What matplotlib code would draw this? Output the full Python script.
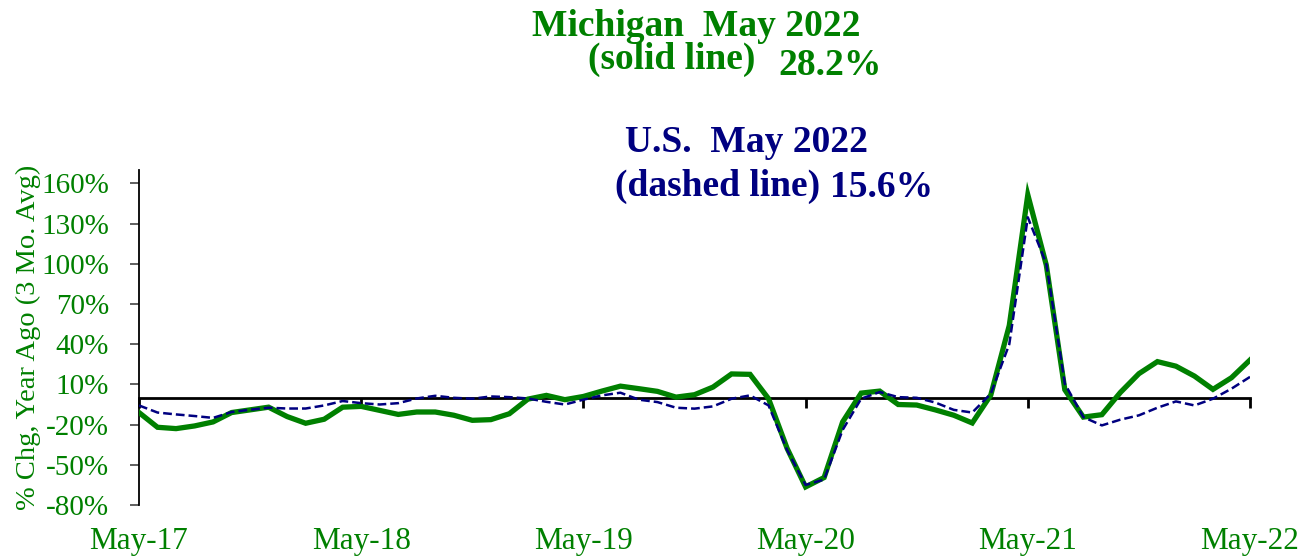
import matplotlib
matplotlib.use("Agg")
import matplotlib.pyplot as plt
from matplotlib.ticker import FixedLocator, FuncFormatter

plt.rcParams['font.family'] = ['Liberation Serif', 'DejaVu Serif']

GREEN = "#008000"
NAVY = "#000080"

# monthly, May-17 .. May-22, % chg year ago (3 mo. avg)
michigan = [-11, -22, -23, -21, -18, -11, -9, -7, -14, -19,
            -16, -7, -6.4, -9.4, -12.4, -10.6, -10.6, -13, -16.8, -16.3,
            -11.9, -1, 1.8, -1.4, 1, 5, 8.7, 6.8, 4.8, 0.5,
            2.3, 8, 17.8, 17.5, -0.7, -37.7, -66.5, -59.5, -18, 3.5,
            5, -5, -5.4, -9, -13, -18.8, 2, 54, 151.5, 99,
            6, -14.4, -12.6, 4, 18, 27, 23.6, 16.2, 6.3, 15,
            28.2]
us = [-5.7, -11, -12.4, -13.6, -15, -10.6, -8.9, -7.4, -8, -8,
      -5.7, -2.4, -4, -5, -4, -0.5, 1.5, 0, -0.7, 1,
      0.5, -0.5, -3, -5, -1.4, 1.8, 3.8, -1.4, -3.2, -7.4,
      -8.1, -6.4, -0.7, 1.8, -5.7, -39, -65, -61, -24, -0.7,
      4.3, 0.5, 0, -3.5, -9, -11, 3, 40, 134.7, 100,
      10.5, -14.4, -20.6, -16.3, -13.1, -7.4, -2.7, -5.7, -0.7, 6.8,
      15.6]
months = list(range(len(michigan)))

xtick_pos = [0, 12, 24, 36, 48, 60]
xtick_labels = ["May-17", "May-18", "May-19", "May-20", "May-21", "May-22"]
ytick_vals = [-80, -50, -20, 10, 40, 70, 100, 130, 160]

fig = plt.figure(figsize=(13.14, 5.6), dpi=100)
ax = fig.add_axes([139 / 1314, 1 - 505 / 560, 1111 / 1314, 335 / 560])

ax.plot(months, michigan, color=GREEN, lw=3.8, zorder=3, solid_joinstyle='miter')
ax.plot(months, us, color=NAVY, lw=1.8, dashes=(3.5, 1.6), zorder=4)

ax.set_xlim(0, 60)
ax.set_ylim(-80, 170)

# zero line acts as x axis with month ticks
ax.spines['top'].set_visible(False)
ax.spines['right'].set_visible(False)
ax.spines['bottom'].set_position(('data', 0))
ax.spines['bottom'].set_linewidth(2)
ax.spines['left'].set_linewidth(1.3)
ax.xaxis.set_major_locator(FixedLocator(xtick_pos))
ax.tick_params(axis='x', direction='out', length=7, width=2, labelbottom=False)

ax.yaxis.set_major_locator(FixedLocator(ytick_vals))
ax.yaxis.set_major_formatter(FuncFormatter(lambda v, p: f"{v:.0f}%"))
ax.tick_params(axis='y', direction='out', length=6.5, width=1.2, color='#444444',
               labelsize=21, labelcolor=GREEN, pad=15)

sec = ax.secondary_xaxis('bottom')
sec.spines['bottom'].set_visible(False)
sec.set_xticks(xtick_pos)
sec.set_xticklabels(xtick_labels)
sec.tick_params(length=0, labelsize=22.5, labelcolor=GREEN, pad=16)

ax.set_ylabel("% Chg, Year Ago (3 Mo. Avg)", color=GREEN, fontsize=20.5)
ax.yaxis.set_label_coords(-98 / 1111, 0.5)

def ftext(x, y, s, color, size=27):
    fig.text(x / 1314, 1 - y / 560, s, color=color, fontsize=size,
             fontweight='bold', ha='left', va='baseline')

ftext(532, 36, "Michigan  May 2022", GREEN)
ftext(588, 68.5, "(solid line)", GREEN)
ftext(778, 75, "28.2%", GREEN)
ftext(625, 151.7, "U.S.  May 2022", NAVY)
ftext(615, 195.5, "(dashed line)", NAVY)
ftext(830, 197, "15.6%", NAVY)

fig.savefig("out.png", dpi=100)
